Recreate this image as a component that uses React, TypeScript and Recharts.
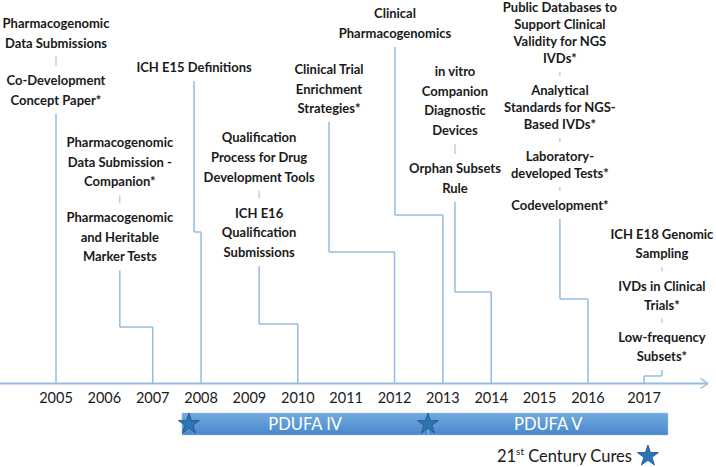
import React from "react";
import {
  ComposedChart,
  Scatter,
  XAxis,
  YAxis,
  ReferenceArea,
  ReferenceLine,
  Symbols,
} from "recharts";

const W = 716;
const H = 467;

// horizontal scale: 2005 sits at 56px, one year is ~48.4px
const PX_PER_YEAR = 48.36;
const X_MIN = 2005 - 56 / PX_PER_YEAR;
const X_MAX = 2005 + (W - 56) / PX_PER_YEAR;
// vertical scale: value 0 is the timeline, positive goes up, 1 unit = 1px
const AXIS_PX = 383.5;
const Y_MAX = AXIS_PX;
const Y_MIN = AXIS_PX - H;
const v = (px: number) => AXIS_PX - px;

const YEARS = [2005, 2006, 2007, 2008, 2009, 2010, 2011, 2012, 2013, 2014, 2015, 2016, 2017];
const YEAR_POS = [2005, 2006, 2007, 2008, 2009, 2010, 2011, 2012, 2013, 2014, 2015, 2016, 2017.16];

// guidance documents, by the year they hit the timeline
const EVENT_YEARS = [2005, 2007, 2008, 2010, 2012, 2013, 2014, 2016, 2017.16];
const EVENT_LABELS: string[][][] = [
  [["Pharmacogenomic", "Data Submissions"], ["Co-Development", "Concept Paper*"]],
  [["Pharmacogenomic", "Data Submission -", "Companion*"], ["Pharmacogenomic", "and Heritable", "Marker Tests"]],
  [["ICH E15 Definitions"]],
  [["Qualification", "Process for Drug", "Development Tools"], ["ICH E16", "Qualification", "Submissions"]],
  [["Clinical Trial", "Enrichment", "Strategies*"]],
  [["Clinical", "Pharmacogenomics"]],
  [["in vitro", "Companion", "Diagnostic", "Devices"], ["Orphan Subsets", "Rule"]],
  [
    ["Public Databases to", "Support Clinical", "Validity for NGS", "IVDs*"],
    ["Analytical", "Standards for NGS-", "Based IVDs*"],
    ["Laboratory-", "developed Tests*"],
    ["Codevelopment*"],
  ],
  [["ICH E18 Genomic", "Sampling"], ["IVDs in Clinical", "Trials*"], ["Low-frequency", "Subsets*"]],
];

// where each label block sits: centre year, elbow height (px), first line (px), line + group spacing
const LABEL_LAYOUT = [
  { x: 2005, elbow: null, top: 23, lh: 19.6, gap: 37.5 },
  { x: 2006.32, elbow: 327, top: 142, lh: 19.6, gap: 36 },
  { x: 2007.855, elbow: 232, top: 67, lh: 19.6, gap: 36 },
  { x: 2009.2, elbow: 324, top: 137, lh: 19.8, gap: 36 },
  { x: 2010.645, elbow: 252, top: 69, lh: 19.5, gap: 36 },
  { x: 2012.01, elbow: 215, top: 13, lh: 20, gap: 36 },
  { x: 2013.25, elbow: 292, top: 71, lh: 19.7, gap: 38 },
  { x: 2015.42, elbow: 299, top: 7, lh: 17, gap: 32 },
  { x: 2017.53, elbow: 376, top: 234, lh: 19, gap: 32.5 },
];

const PDUFA = [
  { name: "PDUFA IV", start: 2007.605, end: 2012.7 },
  { name: "PDUFA V", start: 2012.7, end: 2017.655 },
];
const STARS = [
  { x: 2007.75, y: v(424) },
  { x: 2012.69, y: v(424) },
  { x: 2017.24, y: v(456) },
];

const LINE_COLOR = "#93BBE4";
const FONT = "Lato, 'Open Sans', sans-serif";

type Pt = { x: number; y: number };
type Seg = [Pt, Pt];

// build text rows, connector segments and the little dashes between groups
const textRows: { x: number; y: number; text: string }[] = [];
const connectors: Seg[] = [];
const dashes: Seg[] = [];
EVENT_LABELS.forEach((groups, i) => {
  const L = LABEL_LAYOUT[i];
  let y = L.top;
  groups.forEach((lines, g) => {
    if (g > 0) {
      dashes.push([
        { x: L.x, y: v(y - L.lh + 14) },
        { x: L.x, y: v(y - L.lh + L.gap - 14) },
      ]);
      y += L.gap - L.lh;
    }
    lines.forEach((t) => {
      textRows.push({ x: L.x, y: v(y), text: t });
      y += L.lh;
    });
  });
  const last = y - L.lh;
  const yr = EVENT_YEARS[i];
  const pts: Pt[] = [{ x: yr, y: 0 }];
  if (L.elbow !== null) {
    pts.push({ x: yr, y: v(L.elbow) }, { x: L.x, y: v(L.elbow) });
  }
  pts.push({ x: L.x, y: v(last + 14) });
  for (let k = 1; k < pts.length; k++) connectors.push([pts[k - 1], pts[k]]);
});

const yearRows = YEARS.map((yr, i) => ({ x: YEAR_POS[i], y: v(397), text: String(yr) }));
const ARROW_TIP = 2018.482;
const axisSegs: Seg[] = [
  [{ x: X_MIN, y: 0 }, { x: ARROW_TIP, y: 0 }],
  [{ x: 2018.33, y: 5 }, { x: ARROW_TIP, y: 0 }],
  [{ x: 2018.33, y: -5 }, { x: ARROW_TIP, y: 0 }],
];

const LabelText = (props: any) => {
  const { cx, cy, payload } = props;
  return (
    <text
      x={cx}
      y={cy}
      textAnchor="middle"
      dominantBaseline="central"
      fontFamily={FONT}
      fontWeight={700}
      fontSize={13}
      fill="#1a1a1a"
    >
      {payload.text}
    </text>
  );
};

const YearText = (props: any) => {
  const { cx, cy, payload } = props;
  return (
    <text x={cx} y={cy} textAnchor="middle" dominantBaseline="central" fontFamily={FONT} fontSize={14.5} fill="#1a1a1a">
      {payload.text}
    </text>
  );
};

const StarShape = (props: any) => {
  const { cx, cy } = props;
  return <Symbols type="star" cx={cx} cy={cy} size={135} fill="#2E75B6" stroke="#245E94" strokeWidth={1} />;
};

const CuresText = (props: any) => {
  const { cx, cy } = props;
  return (
    <text x={cx - 16} y={cy + 6} textAnchor="end" fontFamily={FONT} fontSize={16.5} fill="#1a1a1a">
      21
      <tspan fontSize={10} dy={-7}>
        st
      </tspan>
      <tspan dy={7}> Century Cures</tspan>
    </text>
  );
};

export default function App() {
  return (
    <div style={{ position: "absolute", left: 0, top: 0, width: W, height: H, background: "#fff" }}>
      <ComposedChart width={W} height={H} margin={{ top: 0, right: 0, bottom: 0, left: 0 }}>
        <defs>
          <linearGradient id="pdufa" x1="0" y1="0" x2="0" y2="1">
            <stop offset="0%" stopColor="#72AADF" />
            <stop offset="100%" stopColor="#4A88CA" />
          </linearGradient>
        </defs>
        <XAxis dataKey="x" type="number" domain={[X_MIN, X_MAX]} allowDataOverflow hide />
        <YAxis dataKey="y" type="number" domain={[Y_MIN, Y_MAX]} allowDataOverflow hide />

        {PDUFA.map((p) => (
          <ReferenceArea
            key={p.name}
            x1={p.start}
            x2={p.end}
            y1={v(435)}
            y2={v(413)}
            fill="url(#pdufa)"
            fillOpacity={1}
            stroke="#9CC2E8"
            strokeWidth={0.5}
            label={{ value: p.name, fill: "#ffffff", fontSize: 16.5, fontFamily: FONT }}
          />
        ))}

        {axisSegs.map((s, i) => (
          <ReferenceLine key={"a" + i} segment={s} stroke={LINE_COLOR} strokeWidth={i === 0 ? 2 : 1.5} />
        ))}
        {connectors.map((s, i) => (
          <ReferenceLine key={"c" + i} segment={s} stroke={LINE_COLOR} strokeWidth={1.5} />
        ))}
        {dashes.map((s, i) => (
          <ReferenceLine key={"d" + i} segment={s} stroke={LINE_COLOR} strokeWidth={1} />
        ))}

        <Scatter data={textRows} shape={LabelText} isAnimationActive={false} />
        <Scatter data={yearRows} shape={YearText} isAnimationActive={false} />
        <Scatter data={STARS} shape={StarShape} isAnimationActive={false} />
        <Scatter data={[STARS[2]]} shape={CuresText} isAnimationActive={false} />
      </ComposedChart>
    </div>
  );
}
